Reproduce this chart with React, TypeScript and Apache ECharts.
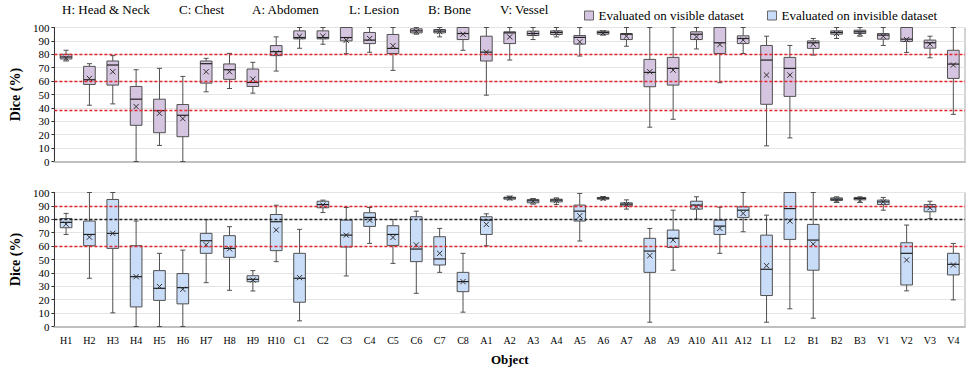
import React, { useEffect, useRef } from "react";
import * as echarts from "echarts";

const categories = [
  "H1","H2","H3","H4","H5","H6","H7","H8","H9","H10",
  "C1","C2","C3","C4","C5","C6","C7","C8",
  "A1","A2","A3","A4","A5","A6","A7","A8","A9","A10","A11","A12",
  "L1","L2","B1","B2","B3","V1","V2","V3","V4",
];

const groupLabels = ["H: Head & Neck", "C: Chest", "A: Abdomen", "L: Lesion", "B: Bone", "V: Vessel"];
const seriesNames = ["Evaluated on visible dataset", "Evaluated on invisible dataset"];

// Visible dataset (top panel)
const visMin = [75,42,43,0,12,0,52,54.5,51,67.5, 84.5,87.5,80.5,81.5,68,95,93,83, 49.5,75.7,91,93,78.7,94.3,86,25.6,31.5,84,58.8,80.6, 11.7,17.6,79.4,91.8,93.5,86.6,81.4,77.4,35.2];
const visQ1 = [76.5,57.5,57,27,21.5,18.5,58.5,61.3,56,79, 91.5,91.5,90,88,80.6,96,96,91, 75,88,94,94.8,87.6,95,91,55.8,57,91,80.6,88, 42.7,48.6,84.4,95,95.5,91.3,89.6,84.6,62];
const visMed = [78,61,72,46.5,38,34.5,73,68.5,59,82, 92.5,92.5,92.5,90.6,84.4,97.5,97.3,95.5, 81.6,96,95.5,96.3,92.6,96.3,95,66.5,69.5,95,88.6,91.8, 75.7,69.5,88.6,96.3,96.8,94.3,91.3,88.6,72.7];
const visQ3 = [80,71,75,56,46.5,42.5,75,72.8,69,86.5, 97.5,97.5,100,96.3,94.8,99,98.5,100, 93.5,96.8,97.3,97.5,94,97.3,95.5,76.2,77.7,96.8,100,93.8, 86.6,77.7,90,97.5,98,95.5,100,90.6,83];
const visMax = [83,73,79,68.5,69.5,63.5,77,80.7,74,93, 100,100,100,100,100,100,100,100, 100,100,100,100,100,97.5,100,100,100,100,100,100, 93.5,86.6,91.8,100,100,100,100,93.5,100];
const visMean = [77,62,67,41,36,32,67,67,61.5,81, 93.5,93.5,90.5,91.8,86.4,97,97,95, 81.6,93,95.5,96,89.3,96,93.5,67,68.2,93,87.3,90.6, 64.5,64.5,87.6,95.5,95.5,93.5,91,87.6,72];

// Invisible dataset (bottom panel)
const invMin = [68.7,36,10.2,0,0,0,32.7,27,26.5,48.4, 4.2,85,37.7,62,47.1,24.8,40.4,10.7, 60.3,94.5,91.3,91,63.8,94.5,87.6,3.2,42,80.1,54.6,70.7, 3.2,13.2,6.2,92.6,92.6,86.8,26.6,80.6,19.9];
const invQ1 = [73.7,60.3,58.3,14.6,19.5,16.9,54.6,51.6,33.4,56.6, 18.1,88.6,59.3,74.7,60.5,48.4,45.9,26, 68.7,95,92.3,93,78.7,95,90,40.4,59,87.6,68.7,81.4, 23.1,65,42,94,94.5,91,31,85.6,38.5];
const invMed = [77.7,68.7,69.5,37.2,28.5,29,64,58.3,35.2,78.2, 36,91,68.2,81.4,68.7,57.8,50.4,33.5, 79.4,96,93.8,94.3,86.1,95.8,91.3,56.3,65.8,90.6,74.9,86.8, 42.7,88,64.5,95,95.5,93,54.6,89.3,46.4];
const invQ3 = [80.6,78.7,94.8,60.3,41.7,39.5,69.5,67.8,37.9,83.6, 54.6,93.5,79.4,84.9,75.2,81.9,67,40.4, 81.9,96.5,94.8,95,90.6,96.3,92.3,65.8,72,93.5,79.4,89.3, 68.2,100,76.2,96,96.3,94.3,62.5,91,54.6];
const invMax = [84.4,100,100,78.7,54.6,57,79.7,74.5,41.7,90.5, 72.5,94.3,88.8,88.8,79.9,86.1,73.2,54.6, 84.1,97.3,95.5,96,99.3,97,94.5,73.2,86.8,96.8,89,100, 83.1,100,100,96.8,96.8,96.3,75.7,93.5,62];
const invMean = [76.4,66.7,69.5,37.2,29.8,27.8,61,58,34.7,72, 36.5,90.6,68.2,79.4,66.5,60.8,54.6,33.5, 76.2,95.8,93.5,94,82.6,95.5,91,52.9,64.5,89.3,73.2,84.4, 45.4,78.7,61.5,94.3,94,93,49.6,88.6,45.9];

const topRefLines = [80, 60, 38];
const bottomRedLines = [90, 60];
const bottomBlackLines = [80];

const FONT = '"Liberation Serif", "Times New Roman", serif';
const PURPLE = "#d6c5e1";
const BLUE = "#c9dcf8";
const STROKE = "#505050";

function buildData(mn: number[], q1: number[], md: number[], q3: number[], mx: number[], mean: number[]) {
  return categories.map((_, i) => [i, mn[i], q1[i], md[i], q3[i], mx[i], mean[i]]);
}

function makeRenderItem(fill: string) {
  return (params: any, api: any) => {
    const i = api.value(0);
    const vMin = api.value(1), vQ1 = api.value(2), vMed = api.value(3), vQ3 = api.value(4), vMax = api.value(5), vMean = api.value(6);
    const cx = api.coord([i, vMed])[0];
    const y = (v: number) => api.coord([i, v])[1];
    const half = api.size([1, 0])[0] * 0.25;
    const cap = 2.5;
    const xs = 2.6;
    const yMin = y(vMin), yQ1 = y(vQ1), yMed = y(vMed), yQ3 = y(vQ3), yMax = y(vMax), yMean = y(vMean);
    const ls = { stroke: STROKE, lineWidth: 1 };
    return {
      type: "group",
      children: [
        { type: "line", shape: { x1: cx, y1: yMax, x2: cx, y2: yQ3 }, style: ls },
        { type: "line", shape: { x1: cx, y1: yQ1, x2: cx, y2: yMin }, style: ls },
        { type: "line", shape: { x1: cx - cap, y1: yMax, x2: cx + cap, y2: yMax }, style: ls },
        { type: "line", shape: { x1: cx - cap, y1: yMin, x2: cx + cap, y2: yMin }, style: ls },
        { type: "rect", shape: { x: cx - half, y: yQ3, width: half * 2, height: Math.max(yQ1 - yQ3, 1) }, style: { fill, stroke: STROKE, lineWidth: 1 } },
        { type: "line", shape: { x1: cx - half, y1: yMed, x2: cx + half, y2: yMed }, style: { stroke: "#202020", lineWidth: 1.2 } },
        { type: "line", shape: { x1: cx - xs, y1: yMean - xs, x2: cx + xs, y2: yMean + xs }, style: { stroke: "#303030", lineWidth: 1 } },
        { type: "line", shape: { x1: cx - xs, y1: yMean + xs, x2: cx + xs, y2: yMean - xs }, style: { stroke: "#303030", lineWidth: 1 } },
      ],
    };
  };
}

function refLineSeries(axisIdx: number, values: number[], color: string) {
  return {
    type: "scatter",
    xAxisIndex: axisIdx,
    yAxisIndex: axisIdx,
    data: [],
    silent: true,
    markLine: {
      silent: true,
      symbol: "none",
      label: { show: false },
      lineStyle: { color, type: [3, 2], width: 1.4 },
      data: values.map((v) => ({ yAxis: v })),
    },
  };
}

export default function App() {
  const ref = useRef<HTMLDivElement>(null);
  useEffect(() => {
    if (!ref.current) return;
    const chart = echarts.init(ref.current, undefined, { renderer: "svg" });
    const gridLeft = 46.7;
    const gridRight = 4;
    const yAxisCommon = {
      type: "value",
      min: 0,
      max: 100,
      interval: 10,
      axisLabel: { fontFamily: FONT, fontSize: 11, color: "#000", margin: 5 },
      axisLine: { show: true, lineStyle: { color: "#333", width: 1 } },
      axisTick: { show: true, length: 3, lineStyle: { color: "#333" } },
      splitLine: { show: true, lineStyle: { color: "#e4e4e4", width: 1 } },
      name: "Dice (%)",
      nameLocation: "middle",
      nameGap: 27,
      nameRotate: 90,
      nameTextStyle: { fontFamily: FONT, fontWeight: "bold", fontSize: 14, color: "#000" },
    };
    const graphics: any[] = [];
    const labelX = [62, 179, 252, 349, 428, 500];
    groupLabels.forEach((t, k) => {
      graphics.push({
        type: "text",
        left: labelX[k],
        top: 3,
        style: { text: t, font: `13px ${FONT}`, fill: "#000" },
      });
    });
    chart.setOption({
      animation: false,
      backgroundColor: "#fff",
      graphic: graphics,
      legend: {
        left: 579,
        top: 4,
        itemWidth: 9,
        itemHeight: 9,
        itemGap: 23,
        icon: "rect",
        textStyle: { fontFamily: FONT, fontSize: 13, color: "#000" },
        data: [
          { name: seriesNames[0], itemStyle: { color: PURPLE, borderColor: "#666", borderWidth: 1 } },
          { name: seriesNames[1], itemStyle: { color: BLUE, borderColor: "#666", borderWidth: 1 } },
        ],
      },
      grid: [
        { left: gridLeft, right: gridRight, top: 27.5, height: 134, show: true, borderColor: "#a8a8a8", borderWidth: 1 },
        { left: gridLeft, right: gridRight, top: 192.5, height: 134, show: true, borderColor: "#a8a8a8", borderWidth: 1 },
      ],
      xAxis: [
        {
          type: "category",
          gridIndex: 0,
          data: categories,
          axisLabel: { show: false },
          axisTick: { show: false },
          axisLine: { show: true, lineStyle: { color: "#c0c0c0", width: 2 } },
        },
        {
          type: "category",
          gridIndex: 1,
          data: categories,
          axisLabel: { show: true, interval: 0, fontFamily: FONT, fontSize: 10, color: "#000", margin: 9 },
          axisTick: { show: false },
          axisLine: { show: true, lineStyle: { color: "#c0c0c0", width: 2 } },
          name: "Object",
          nameLocation: "middle",
          nameGap: 26,
          nameTextStyle: { fontFamily: FONT, fontWeight: "bold", fontSize: 13, color: "#000" },
        },
      ],
      yAxis: [
        { ...yAxisCommon, gridIndex: 0 },
        { ...yAxisCommon, gridIndex: 1 },
      ],
      series: [
        refLineSeries(0, topRefLines, "#e3262b"),
        refLineSeries(1, bottomRedLines, "#e3262b"),
        refLineSeries(1, bottomBlackLines, "#222"),
        {
          type: "custom",
          name: seriesNames[0],
          xAxisIndex: 0,
          yAxisIndex: 0,
          itemStyle: { color: PURPLE },
          renderItem: makeRenderItem(PURPLE),
          encode: { x: 0, y: [1, 2, 3, 4, 5] },
          data: buildData(visMin, visQ1, visMed, visQ3, visMax, visMean),
          z: 3,
        },
        {
          type: "custom",
          name: seriesNames[1],
          xAxisIndex: 1,
          yAxisIndex: 1,
          itemStyle: { color: BLUE },
          renderItem: makeRenderItem(BLUE),
          encode: { x: 0, y: [1, 2, 3, 4, 5] },
          data: buildData(invMin, invQ1, invMed, invQ3, invMax, invMean),
          z: 3,
        },
      ],
    });
    return () => chart.dispose();
  }, []);
  return <div ref={ref} style={{ position: "absolute", left: 0, top: 0, width: 969, height: 368 }} />;
}
